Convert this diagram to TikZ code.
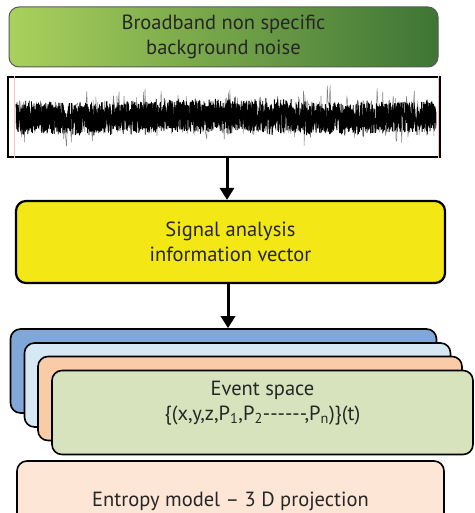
\documentclass[tikz,border=0pt]{standalone}
\usepackage{fontspec}
\setmainfont{PT Sans}
\usepackage{xcolor}
\usepackage{tikz}
\usetikzlibrary{arrows.meta,positioning}

\definecolor{leafL}{HTML}{A9D15C}
\definecolor{leafM}{HTML}{76BF4C}
\definecolor{leafR}{HTML}{3E7535}
\definecolor{sigyellow}{HTML}{F3E816}
\definecolor{layblue}{HTML}{7FA8D8}
\definecolor{laysky}{HTML}{D5E8F3}
\definecolor{laypeach}{HTML}{F9CBA7}
\definecolor{laysage}{HTML}{D6E3BC}
\definecolor{entpeach}{HTML}{FDE6D6}

\begin{document}
\begin{tikzpicture}[x=1pt, y=-1pt,
  font=\fontsize{20.5}{25}\selectfont, text=black!85,
  box/.style={draw, rounded corners=10pt, align=center, inner sep=0pt},
  layer/.style={box, line width=1.6pt, minimum width=426pt, minimum height=84pt},
  arr/.style={line width=3pt, -{Triangle[length=12pt, width=14pt]}}]
\useasboundingbox (0,0) rectangle (474,513);
\clip (0,0) rectangle (474,513);
\pgfmathsetseed{4242}

\node[box, draw=black!65, line width=1pt, left color=leafL, middle color=leafM, right color=leafR,
  minimum width=429pt, minimum height=60pt] (noise) at (223.5,37) {Broadband non specific\\background noise};

\node[draw, line width=1.8pt, fill=white, minimum width=432pt, minimum height=80pt, inner sep=0pt] (wave) at (224,117) {};
\begin{scope}
\clip (wave.south west) rectangle (wave.north east);
\draw[black!50, line width=0.5pt] plot[domain=16:436, samples=600] (\x, {117 + rand*(15 + 19*rnd^4)});
\draw[black, line width=0.8pt] plot[domain=16:436, samples=3000] (\x, {117 + 1.5*sin(\x*1.3) + rand*(15 + 4*rnd^3)});
\end{scope}
\draw[red!25, line width=0.6pt] ([xshift=7pt]wave.north west) -- ([xshift=7pt]wave.south west);
\draw[red!25, line width=0.6pt] ([xshift=-3pt]wave.north east) -- ([xshift=-3pt]wave.south east);

\node[box, line width=2.2pt, fill=sigyellow, minimum width=429pt, minimum height=82pt] (signal) at (230.5,242) {Signal analysis\\information vector};

\node[layer, fill=layblue] (lay1) at (223.5,371) {};
\node[layer, fill=laysky] (lay2) at (237.5,385) {};
\node[layer, fill=laypeach, minimum width=424pt] (lay3) at (250,398.5) {};
\node[layer, fill=laysage, minimum width=421pt] (lay4) at (262.5,412.5) {};
\node[align=center] (evt) at ([yshift=9pt]lay4.center) {Event space\\\{(x,y,z,P\textsubscript{1},P\textsubscript{2}-{}-{}-{}-{}-{}-,P\textsubscript{n})\}(t)};

\node[box, line width=1.6pt, fill=entpeach, minimum width=427pt, minimum height=80pt] (entropy) at (230.5,501) {Entropy model -- 3 D projection};

\draw[arr] ([xshift=3pt]wave.south) -- ([xshift=-3.5pt]signal.north);
\draw[arr] ([xshift=-2.5pt]signal.south) -- ([xshift=4.5pt]lay1.north);
\end{tikzpicture}
\end{document}
